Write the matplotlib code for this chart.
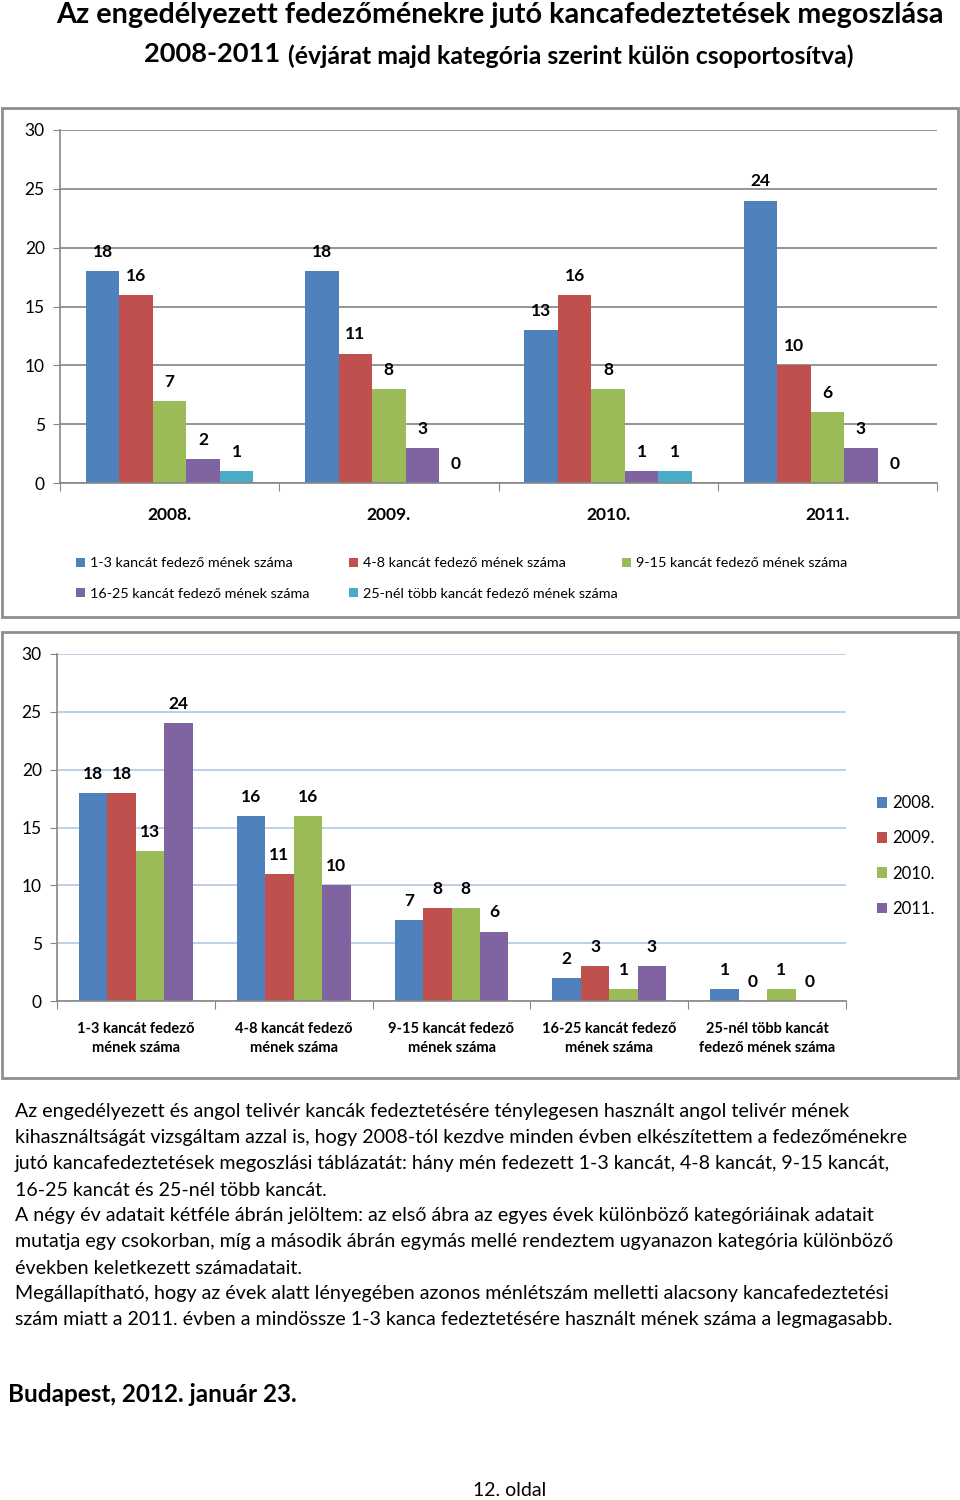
import numpy as np
import matplotlib
matplotlib.use('Agg')
import matplotlib.pyplot as plt
from matplotlib.patches import Rectangle

plt.rcParams['font.family'] = ['Lato', 'DejaVu Sans']

# Data
years = ['2008.', '2009.', '2010.', '2011.']
categories = ['1-3 kancát fedező mének száma', '4-8 kancát fedező mének száma',
              '9-15 kancát fedező mének száma', '16-25 kancát fedező mének száma',
              '25-nél több kancát fedező mének száma']
cat_short = ['1-3 kancát fedező\nmének száma', '4-8 kancát fedező\nmének száma',
             '9-15 kancát fedező\nmének száma', '16-25 kancát fedező\nmének száma',
             '25-nél több kancát\nfedező mének száma']
c_1_3 = [18, 18, 13, 24]
c_4_8 = [16, 11, 16, 10]
c_9_15 = [7, 8, 8, 6]
c_16_25 = [2, 3, 1, 3]
c_25plus = [1, 0, 1, 0]
series = [c_1_3, c_4_8, c_9_15, c_16_25, c_25plus]

colors = ['#4F81BD', '#C0504D', '#9BBB59', '#8064A2', '#4BACC6']

paragraph = [
    "Az engedélyezett és angol telivér kancák fedeztetésére ténylegesen használt angol telivér mének",
    "kihasználtságát vizsgáltam azzal is, hogy 2008-tól kezdve minden évben elkészítettem a fedezőménekre",
    "jutó kancafedeztetések megoszlási táblázatát: hány mén fedezett 1-3 kancát, 4-8 kancát, 9-15 kancát,",
    "16-25 kancát és 25-nél több kancát.",
    "A négy év adatait kétféle ábrán jelöltem: az első ábra az egyes évek különböző kategóriáinak adatait",
    "mutatja egy csokorban, míg a második ábrán egymás mellé rendeztem ugyanazon kategória különböző",
    "években keletkezett számadatait.",
    "Megállapítható, hogy az évek alatt lényegében azonos ménlétszám melletti alacsony kancafedeztetési",
    "szám miatt a 2011. évben a mindössze 1-3 kanca fedeztetésére használt mének száma a legmagasabb.",
]

W, H = 960, 1500
fig = plt.figure(figsize=(W / 100, H / 100), dpi=100)


def fx(x):
    return x / W


def fy(y):
    return 1 - y / H


# Titles
fig.text(fx(500), fy(15), 'Az engedélyezett fedezőménekre jutó kancafedeztetések megoszlása',
         ha='center', va='center', fontsize=20.7, fontweight='bold')
fig.text(fx(280), fy(54), '2008-2011', ha='right', va='center', fontsize=19.6, fontweight='bold')
fig.text(fx(288), fy(56), '(évjárat majd kategória szerint külön csoportosítva)',
         ha='left', va='center', fontsize=17.9, fontweight='bold')

# Panel borders
for top, bottom in [(108, 617), (632, 1078)]:
    fig.add_artist(Rectangle((fx(2), fy(bottom)), fx(956), (bottom - top) / H,
                             transform=fig.transFigure, fill=False,
                             edgecolor='#8E8E8E', linewidth=2))


def style_axes(ax, gridcolor):
    ax.set_ylim(0, 30)
    ax.set_yticks(range(0, 31, 5))
    ax.yaxis.grid(True, color=gridcolor, linewidth=1.3)
    ax.set_axisbelow(True)
    for s in ['top', 'right']:
        ax.spines[s].set_visible(False)
    for s in ['left', 'bottom']:
        ax.spines[s].set_color('#868686')
        ax.spines[s].set_linewidth(1.2)
    ax.tick_params(axis='y', length=5, color='#868686', labelsize=12.5, pad=6)
    ax.tick_params(axis='x', which='major', length=6, color='#868686', labelbottom=False)
    ax.tick_params(axis='x', which='minor', length=0)


# Chart 1: grouped by year
ax1 = fig.add_axes([fx(60), fy(483), fx(937 - 60), (483 - 130) / H])
x1 = np.arange(len(years))
w1 = 0.153
bars1 = []
for i, vals in enumerate(series):
    b = ax1.bar(x1 + (i - 2) * w1, vals, w1, color=colors[i], label=categories[i])
    ax1.bar_label(b, padding=8, fontsize=12.5, fontweight='bold')
    bars1.append(b)
ax1.set_xlim(-0.5, len(years) - 0.5)
style_axes(ax1, '#8C8C8C')
ax1.set_xticks(np.arange(len(years) + 1) - 0.5)
ax1.set_xticks(x1, minor=True)
ax1.set_xticklabels(years, minor=True, fontweight='bold', fontsize=12.5)
ax1.tick_params(axis='x', which='minor', pad=17)

legend_cols = [[0, 3], [1, 4], [2]]
for k, idx in enumerate(legend_cols):
    fig.legend([bars1[j] for j in idx], [categories[j] for j in idx],
               loc='upper left', bbox_to_anchor=(fx(69 + 273 * k), fy(550)),
               frameon=False, fontsize=10.4, handlelength=0.6, handleheight=0.6,
               handletextpad=0.35, labelspacing=1.3, borderpad=0)

# Chart 2: grouped by category
ax2 = fig.add_axes([fx(57), fy(1001), fx(846 - 57), (1001 - 654) / H])
x2 = np.arange(len(categories))
w2 = 0.18
bars2 = []
for j, yr in enumerate(years):
    vals = [s[j] for s in series]
    b = ax2.bar(x2 + (j - 1.5) * w2, vals, w2, color=colors[j], label=yr)
    ax2.bar_label(b, padding=8, fontsize=12.5, fontweight='bold')
    bars2.append(b)
ax2.set_xlim(-0.5, len(categories) - 0.5)
style_axes(ax2, '#B9CDE5')
ax2.set_xticks(np.arange(len(categories) + 1) - 0.5)
ax2.set_xticks(x2, minor=True)
ax2.set_xticklabels(cat_short, minor=True, fontweight='bold', fontsize=10.5,
                    linespacing=1.45)
ax2.tick_params(axis='x', which='minor', pad=15)

fig.legend(bars2, years, loc='upper left', bbox_to_anchor=(fx(869), fy(787)),
           frameon=False, fontsize=12, handlelength=0.6, handleheight=0.6,
           handletextpad=0.3, labelspacing=1.15, borderpad=0)

# Paragraph text
for k, line in enumerate(paragraph):
    fig.text(fx(15), fy(1112 + 26 * k), line, ha='left', va='center', fontsize=14.1)

fig.text(fx(8), fy(1395), 'Budapest, 2012. január 23.', ha='left', va='center',
         fontsize=17.5, fontweight='bold')
fig.text(fx(510), fy(1490), '12. oldal', ha='center', va='center', fontsize=14)

fig.savefig('out.png', dpi=100)
